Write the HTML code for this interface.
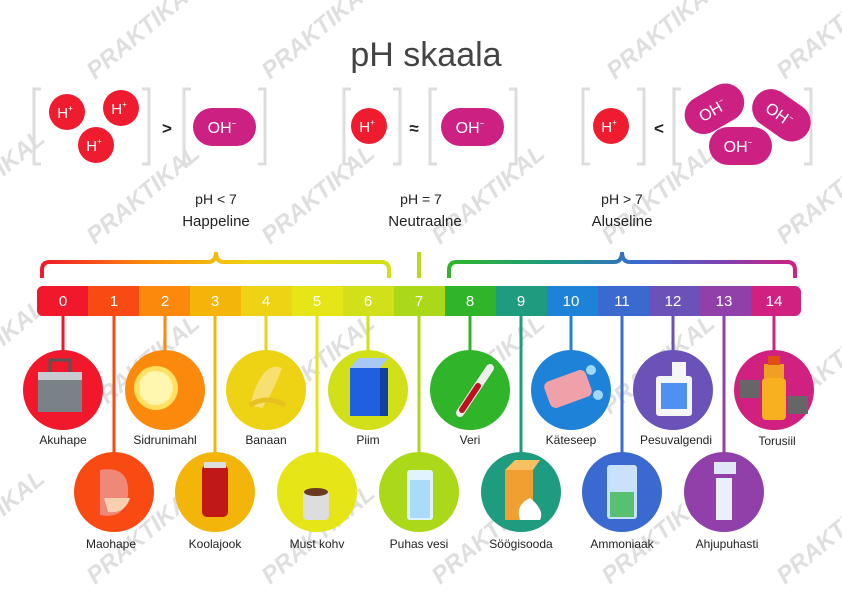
<!DOCTYPE html>
<html><head><meta charset="utf-8"><style>
body{margin:0;background:#fff}
svg{display:block;font-family:"Liberation Sans",sans-serif}
</style></head><body>
<svg width="842" height="595" viewBox="0 0 842 595" xmlns="http://www.w3.org/2000/svg">
<defs>
<linearGradient id="gl" x1="0" x2="1"><stop offset="0" stop-color="#f0182a"/><stop offset="0.3" stop-color="#fb8a0c"/><stop offset="0.6" stop-color="#edd313"/><stop offset="1" stop-color="#d0e01a"/></linearGradient>
<linearGradient id="gr" x1="0" x2="1"><stop offset="0" stop-color="#2fb52a"/><stop offset="0.3" stop-color="#1e9a80"/><stop offset="0.55" stop-color="#3a6ad0"/><stop offset="0.8" stop-color="#8040b0"/><stop offset="1" stop-color="#d02080"/></linearGradient>
</defs>
<!-- watermarks -->
<g fill="#d8d8d8" font-weight="bold" font-style="italic" font-size="24" opacity="0.8">
<g transform="translate(95,80) rotate(-40)"><text>PRAKTIKAL</text></g>
<g transform="translate(270,80) rotate(-40)"><text>PRAKTIKAL</text></g>
<g transform="translate(615,80) rotate(-40)"><text>PRAKTIKAL</text></g>
<g transform="translate(785,80) rotate(-40)"><text>PRAKTIKAL</text></g>
<g transform="translate(-60,230) rotate(-40)"><text>PRAKTIKAL</text></g>
<g transform="translate(95,245) rotate(-40)"><text>PRAKTIKAL</text></g>
<g transform="translate(270,245) rotate(-40)"><text>PRAKTIKAL</text></g>
<g transform="translate(440,245) rotate(-40)"><text>PRAKTIKAL</text></g>
<g transform="translate(610,245) rotate(-40)"><text>PRAKTIKAL</text></g>
<g transform="translate(785,245) rotate(-40)"><text>PRAKTIKAL</text></g>
<g transform="translate(-60,400) rotate(-40)"><text>PRAKTIKAL</text></g>
<g transform="translate(95,415) rotate(-40)"><text>PRAKTIKAL</text></g>
<g transform="translate(270,415) rotate(-40)"><text>PRAKTIKAL</text></g>
<g transform="translate(440,415) rotate(-40)"><text>PRAKTIKAL</text></g>
<g transform="translate(610,415) rotate(-40)"><text>PRAKTIKAL</text></g>
<g transform="translate(785,415) rotate(-40)"><text>PRAKTIKAL</text></g>
<g transform="translate(-60,570) rotate(-40)"><text>PRAKTIKAL</text></g>
<g transform="translate(95,585) rotate(-40)"><text>PRAKTIKAL</text></g>
<g transform="translate(270,585) rotate(-40)"><text>PRAKTIKAL</text></g>
<g transform="translate(440,585) rotate(-40)"><text>PRAKTIKAL</text></g>
<g transform="translate(610,585) rotate(-40)"><text>PRAKTIKAL</text></g>
<g transform="translate(785,585) rotate(-40)"><text>PRAKTIKAL</text></g>
</g>
<text x="426" y="66" text-anchor="middle" font-size="34" fill="#444">pH skaala</text>
<!-- brackets -->
<g fill="none" stroke="#ddd" stroke-width="3">
<path d="M41,89 H34 V164 H41 M142,89 H149 V164 H142"/>
<path d="M191,89 H184 V164 H191 M258,89 H265 V164 H258"/>
<path d="M351,89 H344 V164 H351 M393,89 H400 V164 H393"/>
<path d="M437,89 H430 V164 H437 M509,89 H516 V164 H509"/>
<path d="M590,89 H583 V164 H590 M637,89 H644 V164 H637"/>
<path d="M681,89 H674 V164 H681 M804,89 H811 V164 H804"/>
</g>
<g font-size="17" font-weight="bold" fill="#222" text-anchor="middle">
<text x="167" y="134">&gt;</text><text x="414" y="134">≈</text><text x="659" y="134">&lt;</text></g>
<g fill="#ee1c2e"><circle cx="67" cy="112" r="18"/><circle cx="121" cy="108" r="18"/><circle cx="96" cy="145" r="18"/><circle cx="369" cy="126" r="18"/><circle cx="611" cy="126" r="18"/></g>
<g fill="#fff" font-size="15" text-anchor="middle">
<text x="65" y="118">H<tspan font-size="8" dy="-7">+</tspan></text>
<text x="119" y="114">H<tspan font-size="8" dy="-7">+</tspan></text>
<text x="94" y="151">H<tspan font-size="8" dy="-7">+</tspan></text>
<text x="367" y="132">H<tspan font-size="8" dy="-7">+</tspan></text>
<text x="609" y="132">H<tspan font-size="8" dy="-7">+</tspan></text>
</g>
<g fill="#cc2182"><rect x="193" y="108" width="63" height="38" rx="19"/><rect x="441" y="108" width="63" height="38" rx="19"/>
<rect x="683" y="90" width="63" height="38" rx="19" transform="rotate(-30 714 109)"/>
<rect x="750" y="96" width="63" height="38" rx="19" transform="rotate(35 781 115)"/>
<rect x="709" y="127" width="63" height="38" rx="19"/></g>
<g fill="#fff" font-size="16" text-anchor="middle">
<text x="222" y="133">OH<tspan font-size="8" dy="-7">−</tspan></text>
<text x="470" y="133">OH<tspan font-size="8" dy="-7">−</tspan></text>
<text x="712" y="115" transform="rotate(-30 714 109)">OH<tspan font-size="8" dy="-7">−</tspan></text>
<text x="779" y="121" transform="rotate(35 781 115)">OH<tspan font-size="8" dy="-7">−</tspan></text>
<text x="738" y="152">OH<tspan font-size="8" dy="-7">−</tspan></text>
</g>
<g font-size="14" fill="#222" text-anchor="middle">
<text x="216" y="204">pH &lt; 7</text><text x="216" y="226" font-size="15">Happeline</text>
<text x="421" y="204">pH = 7</text><text x="425" y="226" font-size="15">Neutraalne</text>
<text x="622" y="204">pH &gt; 7</text><text x="622" y="226" font-size="15">Aluseline</text>
</g>
<path d="M42,278 V270 Q42,262 50,262 H208 Q216,262 216,252 Q216,262 224,262 H381 Q389,262 389,270 V278" fill="none" stroke="url(#gl)" stroke-width="4"/>
<path d="M449,278 V270 Q449,262 457,262 H614 Q622,262 622,252 Q622,262 630,262 H787 Q795,262 795,270 V278" fill="none" stroke="url(#gr)" stroke-width="4"/>
<rect x="417" y="252" width="4" height="26" fill="#bcd820"/>
<!-- bar -->
<g>
<rect x="37" y="286" width="764" height="30" rx="6" fill="#d02080"/>
<rect x="37" y="286" width="30" height="30" rx="6" fill="#f0182a"/>
<rect x="45" y="286" width="44" height="30" fill="#f0182a"/>
<rect x="88" y="286" width="51" height="30" fill="#f84a12"/>
<rect x="139" y="286" width="51" height="30" fill="#fb8a0c"/>
<rect x="190" y="286" width="51" height="30" fill="#f3b50a"/>
<rect x="241" y="286" width="51" height="30" fill="#edd313"/>
<rect x="292" y="286" width="51" height="30" fill="#e6e515"/>
<rect x="343" y="286" width="51" height="30" fill="#d2e01a"/>
<rect x="394" y="286" width="51" height="30" fill="#acd81a"/>
<rect x="445" y="286" width="51" height="30" fill="#30b52a"/>
<rect x="496" y="286" width="51" height="30" fill="#1f9b80"/>
<rect x="547" y="286" width="51" height="30" fill="#1e82d8"/>
<rect x="598" y="286" width="51" height="30" fill="#3a6ad0"/>
<rect x="649" y="286" width="51" height="30" fill="#6a52b8"/>
<rect x="700" y="286" width="51" height="30" fill="#9040a8"/>
</g>
<g fill="#fff" font-size="15" text-anchor="middle">
<text x="63" y="306">0</text><text x="114" y="306">1</text><text x="165" y="306">2</text><text x="215" y="306">3</text><text x="266" y="306">4</text><text x="317" y="306">5</text><text x="368" y="306">6</text><text x="419" y="306">7</text><text x="470" y="306">8</text><text x="521" y="306">9</text><text x="571" y="306">10</text><text x="622" y="306">11</text><text x="673" y="306">12</text><text x="724" y="306">13</text><text x="774" y="306">14</text>
</g>
<!-- connectors -->
<g stroke-width="3">
<line x1="63" y1="316" x2="63" y2="352" stroke="#f0182a"/>
<line x1="114" y1="316" x2="114" y2="455" stroke="#f84a12"/>
<line x1="165" y1="316" x2="165" y2="352" stroke="#fb8a0c"/>
<line x1="215" y1="316" x2="215" y2="455" stroke="#f3b50a"/>
<line x1="266" y1="316" x2="266" y2="352" stroke="#edd313"/>
<line x1="317" y1="316" x2="317" y2="455" stroke="#e6e515"/>
<line x1="368" y1="316" x2="368" y2="352" stroke="#d2e01a"/>
<line x1="419" y1="316" x2="419" y2="455" stroke="#acd81a"/>
<line x1="470" y1="316" x2="470" y2="352" stroke="#30b52a"/>
<line x1="521" y1="316" x2="521" y2="455" stroke="#1f9b80"/>
<line x1="571" y1="316" x2="571" y2="352" stroke="#1e82d8"/>
<line x1="622" y1="316" x2="622" y2="455" stroke="#3a6ad0"/>
<line x1="673" y1="316" x2="673" y2="352" stroke="#6a52b8"/>
<line x1="724" y1="316" x2="724" y2="455" stroke="#9040a8"/>
<line x1="774" y1="316" x2="774" y2="352" stroke="#d02080"/>
</g>
<!-- circles -->
<circle cx="63" cy="390" r="40" fill="#f0182a"/>
<circle cx="165" cy="390" r="40" fill="#fb8a0c"/>
<circle cx="266" cy="390" r="40" fill="#edd313"/>
<circle cx="368" cy="390" r="40" fill="#d2e01a"/>
<circle cx="470" cy="390" r="40" fill="#30b52a"/>
<circle cx="571" cy="390" r="40" fill="#1e82d8"/>
<circle cx="673" cy="390" r="40" fill="#6a52b8"/>
<circle cx="774" cy="390" r="40" fill="#d02080"/>
<circle cx="114" cy="492" r="40" fill="#f84a12"/>
<circle cx="215" cy="492" r="40" fill="#f3b50a"/>
<circle cx="317" cy="492" r="40" fill="#e6e515"/>
<circle cx="419" cy="492" r="40" fill="#acd81a"/>
<circle cx="521" cy="492" r="40" fill="#1f9b80"/>
<circle cx="622" cy="492" r="40" fill="#3a6ad0"/>
<circle cx="724" cy="492" r="40" fill="#9040a8"/>
<!-- icons -->
<rect x="38" y="378" width="44" height="34" fill="#7a8288"/><rect x="38" y="372" width="44" height="8" fill="#c8ccd0"/><path d="M50,372 V360 H70 V372" fill="none" stroke="#555" stroke-width="3"/>
<circle cx="156" cy="388" r="22" fill="#ffe060"/><circle cx="156" cy="388" r="17" fill="#fff6b0"/>
<path d="M250,405 Q262,360 282,368 Q272,395 262,408 Z" fill="#f8e070"/><path d="M250,405 Q266,395 285,405" stroke="#e8c020" stroke-width="5" fill="none"/>
<rect x="350" y="368" width="30" height="48" fill="#1f5fe0"/><path d="M350,368 L358,358 H388 L380,368 Z" fill="#a8c8f8"/><rect x="380" y="368" width="8" height="48" fill="#1040a0"/>
<line x1="460" y1="413" x2="490" y2="368" stroke="#eee" stroke-width="8" stroke-linecap="round"/><line x1="462" y1="410" x2="478" y2="386" stroke="#c01020" stroke-width="6" stroke-linecap="round"/>
<rect x="546" y="375" width="44" height="28" rx="6" fill="#f0a0a8" transform="rotate(-20 568 389)"/><circle cx="598" cy="395" r="5" fill="#a0d8f8"/><circle cx="591" cy="370" r="5" fill="#a0d8f8"/>
<rect x="656" y="376" width="36" height="40" rx="3" fill="#f4f6f8"/><rect x="661" y="383" width="26" height="26" fill="#5090f0"/><rect x="672" y="362" width="14" height="14" fill="#f4f6f8"/>
<rect x="762" y="378" width="24" height="42" rx="4" fill="#f8b020"/><rect x="764" y="364" width="20" height="14" fill="#f0a020"/><rect x="768" y="356" width="12" height="9" fill="#e05010"/><rect x="740" y="380" width="20" height="18" fill="#666"/><rect x="788" y="396" width="20" height="18" fill="#666"/>
<path d="M100,470 Q130,465 128,495 Q125,520 100,515 Z" fill="#f08878"/><path d="M104,498 H130 Q125,514 108,512 Z" fill="#f8d0b0"/>
<rect x="202" y="465" width="26" height="52" rx="5" fill="#c01818"/><rect x="204" y="462" width="22" height="6" fill="#ddd"/>
<rect x="303" y="490" width="26" height="30" rx="4" fill="#ddd"/><ellipse cx="316" cy="492" rx="12" ry="4" fill="#6a3a20"/>
<rect x="407" y="470" width="26" height="50" rx="3" fill="#e0f4ff"/><rect x="410" y="480" width="20" height="38" fill="#a8dcf8"/>
<rect x="505" y="470" width="28" height="50" fill="#f0a030"/><path d="M505,470 L515,460 H540 L533,470 Z" fill="#f8c060"/><path d="M520,520 Q515,505 530,498 Q545,510 540,520 Z" fill="#fff"/>
<rect x="607" y="465" width="30" height="54" rx="3" fill="#d8f0ff" opacity="0.9"/><rect x="610" y="492" width="24" height="25" fill="#58c070"/>
<path d="M716,520 V478 H732 V520 Z" fill="#e8f0ff"/><rect x="714" y="462" width="22" height="12" fill="#e0e8f8"/>
<!-- labels -->
<g font-size="12" fill="#222" text-anchor="middle">
<text x="63" y="444">Akuhape</text><text x="165" y="444">Sidrunimahl</text><text x="266" y="444">Banaan</text><text x="368" y="444">Piim</text><text x="470" y="444">Veri</text><text x="571" y="444">Käteseep</text><text x="676" y="444">Pesuvalgendi</text><text x="777" y="445">Torusiil</text>
<text x="111" y="548">Maohape</text><text x="215" y="548">Koolajook</text><text x="317" y="548">Must kohv</text><text x="419" y="548">Puhas vesi</text><text x="521" y="548">Söögisooda</text><text x="622" y="548">Ammoniaak</text><text x="727" y="548">Ahjupuhasti</text>
</g>
</svg>
</body></html>
